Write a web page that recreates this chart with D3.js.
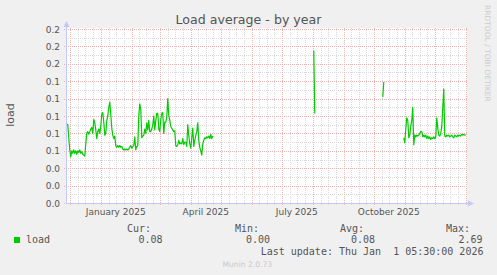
<!DOCTYPE html>
<html>
<head>
<meta charset="utf-8">
<script src="https://cdn.jsdelivr.net/npm/d3@7"></script>
<style>
    body { margin: 0; background: #f0f0f0; }
    svg { display: block; }
</style>
</head>
<body>
<svg id="chart" width="497" height="275"></svg>
<script>

var graphEnd = new Date(2026, 0, 1, 5, 30);
var graphDays = 400;

// daily load averages, split in the segments where data exists
var seg1Start = "2024-11-27";
var seg1Values = [
    0.092, 0.091, 0.090, 0.075, 0.061, 0.053, 0.060, 0.057, 0.061, 0.057,
    0.060, 0.056, 0.060, 0.058, 0.061, 0.057, 0.059, 0.056, 0.055, 0.054,
    0.068, 0.080, 0.082, 0.079, 0.082, 0.085, 0.087, 0.080, 0.096, 0.092,
    0.084, 0.074, 0.082, 0.085, 0.080, 0.088, 0.102, 0.104, 0.093, 0.078,
    0.080, 0.095, 0.100, 0.110, 0.116, 0.102, 0.086, 0.078, 0.074, 0.077,
    0.066, 0.064, 0.066, 0.064, 0.066, 0.064, 0.065, 0.062, 0.061, 0.062,
    0.061, 0.062, 0.061, 0.062, 0.064, 0.066, 0.063, 0.065, 0.066, 0.076,
    0.061, 0.065, 0.066, 0.100, 0.114, 0.108, 0.075, 0.077, 0.078, 0.085,
    0.080, 0.092, 0.084, 0.095, 0.082, 0.082, 0.085, 0.090, 0.100, 0.084,
    0.095, 0.103, 0.103, 0.085, 0.082, 0.096, 0.103, 0.104, 0.080, 0.093,
    0.093, 0.099, 0.120, 0.101, 0.095, 0.088, 0.086, 0.084, 0.082, 0.083,
    0.066, 0.065, 0.067, 0.072, 0.068, 0.069, 0.068, 0.074, 0.067, 0.070,
    0.070, 0.065, 0.090, 0.078, 0.068, 0.063, 0.075, 0.086, 0.065, 0.072,
    0.078, 0.082, 0.092, 0.072, 0.064, 0.060, 0.055, 0.068, 0.072, 0.075,
    0.074, 0.076, 0.075, 0.077, 0.074, 0.079, 0.074, 0.077
];

var seg2Start = "2025-08-02";
var seg2Values = [0.175, 0.103];

var seg3Start = "2025-10-10";
var seg3Values = [0.122, 0.139];

var seg4Start = "2025-10-31";
var seg4Values = [
    0.075, 0.069, 0.085, 0.098, 0.095, 0.075, 0.078, 0.088, 0.095, 0.110,
    0.067, 0.078, 0.076, 0.078, 0.077, 0.078, 0.080, 0.082, 0.082, 0.076,
    0.078, 0.076, 0.078, 0.074, 0.077, 0.074, 0.076, 0.073, 0.075, 0.074,
    0.076, 0.074, 0.076, 0.098, 0.086, 0.078, 0.077, 0.080, 0.088, 0.110,
    0.131, 0.077, 0.076, 0.078, 0.077, 0.078, 0.076, 0.077, 0.078, 0.076,
    0.075, 0.078, 0.077, 0.076, 0.078, 0.077, 0.078, 0.077, 0.079, 0.078,
    0.079, 0.078, 0.078
];

var yMax = 0.2;
var yMajorStep = 0.02;
var yMinorStep = 0.01;

var monthLabels = ["January 2025", "April 2025", "July 2025", "October 2025"];
var monthLabelDates = ["2025-01-01", "2025-04-01", "2025-07-01", "2025-10-01"];

var legendName = "load";
var legendHeads = ["Cur:", "Min:", "Avg:", "Max:"];
var legendValues = ["0.08", "0.00", "0.08", "2.69"];
var lastUpdate = "Last update: Thu Jan  1 05:30:00 2026";

// ---- layout ----

var plot = { left: 66, right: 466, top: 29, bottom: 203 };
var lineColor = "#00cc00";
var textColor = "#555555";
var majorGridColor = "#efb4b4";
var minorGridColor = "#dadada";
var parseDay = d3.timeParse("%Y-%m-%d");

var svg = d3.select("#chart");

var x = d3.scaleTime()
    .domain([d3.timeDay.offset(graphEnd, -graphDays), graphEnd])
    .range([plot.left, plot.right]);

var y = d3.scaleLinear()
    .domain([0, yMax])
    .range([plot.bottom, plot.top]);

/**
 * Turn the segments into one list of points, with null between segments
 */
function buildPoints() {
    var segments = [
        [seg1Start, seg1Values],
        [seg2Start, seg2Values],
        [seg3Start, seg3Values],
        [seg4Start, seg4Values]
    ];
    var points = [];
    segments.forEach(function (s) {
        var start = parseDay(s[0]);
        s[1].forEach(function (v, i) {
            points.push({ date: d3.timeDay.offset(start, i), value: v });
        });
        points.push({ date: null, value: null });
    });
    return points;
}

function crisp(v) { return Math.round(v) + 0.5; }

/**
 * White canvas and the dotted grid
 */
function drawGrid() {
    svg.append("rect")
        .attr("width", 497).attr("height", 275)
        .attr("fill", "#f0f0f0");

    svg.append("rect")
        .attr("x", plot.left).attr("y", plot.top - 1)
        .attr("width", plot.right - plot.left + 1)
        .attr("height", plot.bottom - plot.top + 1)
        .attr("fill", "#ffffff");

    var grid = svg.append("g").attr("class", "grid");

    // minor horizontal lines
    var minor = d3.range(yMinorStep, yMax + 1e-9, yMajorStep);
    grid.selectAll(".hminor").data(minor).enter()
        .append("line")
        .attr("x1", plot.left).attr("x2", plot.right + 1)
        .attr("y1", function (d) { return crisp(y(d)); })
        .attr("y2", function (d) { return crisp(y(d)); })
        .attr("stroke", minorGridColor)
        .attr("stroke-dasharray", "1,1");

    // vertical minor lines: three per month
    var months = d3.timeMonth.range(d3.timeMonth.floor(x.domain()[0]), x.domain()[1]);
    var quarters = [];
    months.forEach(function (m) {
        var next = d3.timeMonth.offset(m, 1);
        [1, 2, 3].forEach(function (k) {
            quarters.push(new Date(+m + (next - m) * k / 4));
        });
    });
    quarters = quarters.filter(function (d) { return d > x.domain()[0] && d < x.domain()[1]; });

    grid.selectAll(".vminor").data(quarters).enter()
        .append("line")
        .attr("x1", function (d) { return crisp(x(d)); })
        .attr("x2", function (d) { return crisp(x(d)); })
        .attr("y1", plot.top - 1).attr("y2", plot.bottom + 3)
        .attr("stroke", minorGridColor)
        .attr("stroke-dasharray", "1,1");

    // major horizontal lines
    var major = d3.range(0, yMax + 1e-9, yMajorStep);
    grid.selectAll(".hmajor").data(major).enter()
        .append("line")
        .attr("x1", plot.left - 2).attr("x2", plot.right + 1)
        .attr("y1", function (d) { return crisp(y(d)); })
        .attr("y2", function (d) { return crisp(y(d)); })
        .attr("stroke", majorGridColor)
        .attr("stroke-dasharray", "1,1");

    // month lines
    var monthLines = d3.timeMonth.range(x.domain()[0], x.domain()[1]);
    grid.selectAll(".vmajor").data(monthLines).enter()
        .append("line")
        .attr("x1", function (d) { return crisp(x(d)); })
        .attr("x2", function (d) { return crisp(x(d)); })
        .attr("y1", plot.top - 1).attr("y2", plot.bottom + 3)
        .attr("stroke", majorGridColor)
        .attr("stroke-dasharray", "1,1");
}

/**
 * Axis lines with the little arrows, plus tick labels
 */
function drawAxes() {
    var axisColor = "#c4c8f6";
    var g = svg.append("g").attr("class", "axes");

    g.append("line")
        .attr("x1", plot.left + 0.5).attr("x2", plot.left + 0.5)
        .attr("y1", plot.bottom + 0.5).attr("y2", plot.top - 4)
        .attr("stroke", axisColor);
    g.append("line")
        .attr("x1", plot.left).attr("x2", plot.right + 4)
        .attr("y1", plot.bottom + 0.5).attr("y2", plot.bottom + 0.5)
        .attr("stroke", axisColor);

    g.append("path")
        .attr("d", "M" + (plot.left - 2.5) + "," + (plot.top - 2) +
            "L" + (plot.left + 0.5) + "," + (plot.top - 8) +
            "L" + (plot.left + 3.5) + "," + (plot.top - 2) + "Z")
        .attr("fill", axisColor);
    g.append("path")
        .attr("d", "M" + (plot.right + 2) + "," + (plot.bottom - 2.5) +
            "L" + (plot.right + 8) + "," + (plot.bottom + 0.5) +
            "L" + (plot.right + 2) + "," + (plot.bottom + 3.5) + "Z")
        .attr("fill", axisColor);

    // y labels
    var major = d3.range(0, yMax + 1e-9, yMajorStep);
    g.selectAll(".ylabel").data(major).enter()
        .append("text")
        .attr("x", 60)
        .attr("y", function (d) { return y(d) + 3.5; })
        .attr("text-anchor", "end")
        .style("font-family", "DejaVu Sans")
        .style("font-size", "9px")
        .style("fill", textColor)
        .text(function (d) { return d3.format(".1f")(d); });

    // month labels sit in the middle of their month
    g.selectAll(".xlabel").data(monthLabels).enter()
        .append("text")
        .attr("x", function (d, i) { return x(d3.timeDay.offset(parseDay(monthLabelDates[i]), 15)); })
        .attr("y", 214.5)
        .attr("text-anchor", "middle")
        .style("font-family", "DejaVu Sans")
        .style("font-size", "9px")
        .style("fill", textColor)
        .text(function (d) { return d; });
}

/**
 * The load line
 */
function drawLine(points) {
    svg.append("clipPath").attr("id", "plotclip")
        .append("rect")
        .attr("x", plot.left + 1).attr("y", plot.top - 2)
        .attr("width", plot.right - plot.left + 2)
        .attr("height", plot.bottom - plot.top + 2);

    var line = d3.line()
        .defined(function (d) { return d.value !== null; })
        .x(function (d) { return x(d.date); })
        .y(function (d) { return y(d.value); });

    svg.append("path")
        .datum(points)
        .attr("clip-path", "url(#plotclip)")
        .attr("d", line)
        .attr("fill", "none")
        .attr("stroke", lineColor)
        .attr("stroke-width", 1.2)
        .attr("stroke-linejoin", "round");
}

/**
 * Title, side texts and the legend under the graph
 */
function drawTexts() {
    svg.append("text")
        .attr("x", 248.5).attr("y", 24)
        .attr("text-anchor", "middle")
        .style("font-family", "DejaVu Sans")
        .style("font-size", "12.6px")
        .style("fill", textColor)
        .text("Load average - by year");

    svg.append("text")
        .attr("transform", "translate(14,115) rotate(-90)")
        .attr("text-anchor", "middle")
        .style("font-family", "DejaVu Sans")
        .style("font-size", "11px")
        .style("fill", textColor)
        .text("load");

    svg.append("text")
        .attr("transform", "translate(485,5) rotate(90)")
        .style("font-family", "DejaVu Sans")
        .style("font-size", "7.5px")
        .style("fill", "#cccccc")
        .text("RRDTOOL / TOBI OETIKER");

    var mono = function (sel) {
        return sel.style("font-family", "DejaVu Sans Mono")
            .style("font-size", "10px")
            .style("fill", textColor)
            .style("white-space", "pre");
    };

    svg.append("rect")
        .attr("x", 14).attr("y", 237)
        .attr("width", 6).attr("height", 6)
        .attr("fill", lineColor);

    mono(svg.append("text").attr("x", 26).attr("y", 243).text(legendName));

    var headX = [127, 235, 340, 446];
    var valueX = [138.5, 246, 351, 458.5];

    mono(svg.selectAll(".lhead").data(legendHeads).enter().append("text")
        .attr("x", function (d, i) { return headX[i]; })
        .attr("y", 231.5)
        .text(function (d) { return d; }));

    mono(svg.selectAll(".lval").data(legendValues).enter().append("text")
        .attr("x", function (d, i) { return valueX[i]; })
        .attr("y", 243)
        .text(function (d) { return d; }));

    mono(svg.append("text").attr("x", 260.7).attr("y", 255).text(lastUpdate));

    svg.append("text")
        .attr("x", 222.5).attr("y", 266.5)
        .style("font-family", "DejaVu Sans")
        .style("font-size", "7.6px")
        .style("fill", "#c8c8c8")
        .text("Munin 2.0.73");
}

drawGrid();
drawAxes();
drawLine(buildPoints());
drawTexts();

</script>
</body>
</html>
